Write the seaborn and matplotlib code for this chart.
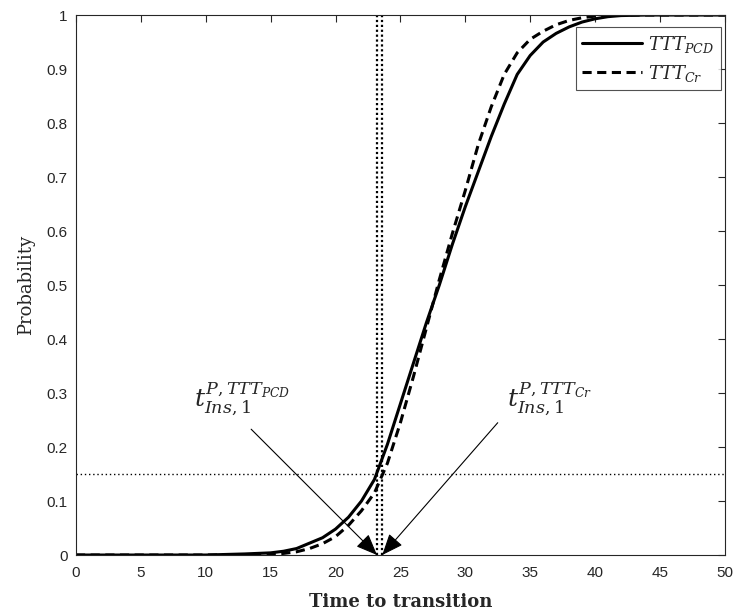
import matplotlib
matplotlib.use("Agg")
import matplotlib.pyplot as plt
import seaborn as sns
import pandas as pd

# Cumulative probability of time to transition
time_pcd = [0, 10, 13, 15, 16, 17, 18, 19, 20, 21, 22, 23, 24, 25, 26, 27, 28, 29,
            30, 31, 32, 33, 34, 35, 36, 37, 38, 39, 40, 41, 42, 44, 46, 50]
prob_pcd = [0.000, 0.000, 0.002, 0.004, 0.007, 0.012, 0.022, 0.032, 0.048, 0.070,
            0.100, 0.140, 0.205, 0.280, 0.355, 0.430, 0.500, 0.575, 0.645, 0.710,
            0.775, 0.835, 0.890, 0.925, 0.950, 0.966, 0.978, 0.987, 0.993, 0.997,
            0.999, 1.000, 1.000, 1.000]

time_cr = [0, 10, 15, 16, 17, 18, 19, 20, 21, 22, 23, 24, 25, 26, 27, 28, 29,
           30, 31, 32, 33, 34, 35, 36, 37, 38, 39, 40, 41, 45, 50]
prob_cr = [0.000, 0.000, 0.001, 0.003, 0.006, 0.012, 0.021, 0.034, 0.055, 0.082,
           0.115, 0.170, 0.245, 0.330, 0.420, 0.510, 0.595, 0.675, 0.760, 0.830,
           0.890, 0.930, 0.955, 0.970, 0.982, 0.990, 0.995, 0.998, 1.000, 1.000, 1.000]

threshold = 0.15
t_ins_pcd = 23.2
t_ins_cr = 23.6

x_ticks = [0, 5, 10, 15, 20, 25, 30, 35, 40, 45, 50]
y_ticks = [0, 0.1, 0.2, 0.3, 0.4, 0.5, 0.6, 0.7, 0.8, 0.9, 1]
y_tick_labels = ["0", "0.1", "0.2", "0.3", "0.4", "0.5", "0.6", "0.7", "0.8", "0.9", "1"]

sns.set_theme(style="white")
plt.rcParams["font.family"] = ["Liberation Sans", "DejaVu Sans"]
plt.rcParams["mathtext.fontset"] = "custom"
plt.rcParams["mathtext.it"] = "DejaVu Serif:italic"
plt.rcParams["mathtext.rm"] = "DejaVu Serif"
plt.rcParams["mathtext.bf"] = "DejaVu Serif:bold"

df_pcd = pd.DataFrame({"t": time_pcd, "p": prob_pcd})
df_cr = pd.DataFrame({"t": time_cr, "p": prob_cr})

fig = plt.figure(figsize=(7.34, 6.16), dpi=100)
ax = fig.add_axes([0.1035, 0.099, 0.884, 0.8766])

sns.lineplot(data=df_pcd, x="t", y="p", ax=ax, color="black", linewidth=2.2,
             label=r"$TTT_{PCD}$")
sns.lineplot(data=df_cr, x="t", y="p", ax=ax, color="black", linewidth=2.2,
             dashes=False, label=r"$TTT_{Cr}$")
ax.lines[1].set_dashes((3, 1.8))

# Threshold and crossing times
ax.axhline(threshold, color="black", linestyle=(0, (1, 2)), linewidth=1.0, zorder=1)
ax.axvline(t_ins_pcd, color="black", linestyle=(0, (1, 1.2)), linewidth=1.6, zorder=1)
ax.axvline(t_ins_cr, color="black", linestyle=(0, (1, 1.2)), linewidth=1.6, zorder=1)

arrow_kw = dict(arrowstyle="-|>,head_length=1.1,head_width=0.45", color="black",
                linewidth=0.8, shrinkA=0, shrinkB=0)
ax.annotate("", xy=(t_ins_pcd, 0.0), xytext=(13.5, 0.233), arrowprops=arrow_kw)
ax.annotate("", xy=(t_ins_cr, 0.0), xytext=(32.5, 0.245), arrowprops=arrow_kw)

ax.text(9.1, 0.29, r"$t^{P,TTT_{PCD}}_{Ins,1}$", fontsize=18, ha="left", va="center")
ax.text(33.2, 0.29, r"$t^{P,TTT_{Cr}}_{Ins,1}$", fontsize=18, ha="left", va="center")

ax.set_xlim(0, 50)
ax.set_ylim(0, 1)
ax.set_xticks(x_ticks)
ax.set_yticks(y_ticks)
ax.set_yticklabels(y_tick_labels)
ax.tick_params(direction="in", length=5, width=0.8, colors="#262626", labelsize=11,
               top=True, right=True, pad=6)
ax.tick_params(axis="x", pad=8)
for s in ax.spines.values():
    s.set_color("#262626")
    s.set_linewidth(0.8)

ax.set_xlabel("Time to transition", family="DejaVu Serif", fontweight="bold",
              fontsize=13, labelpad=9)
ax.set_ylabel("Probability", family="DejaVu Serif", fontsize=13, labelpad=8)

leg = ax.legend(loc="upper right", bbox_to_anchor=(0.999, 0.984), fontsize=13,
                frameon=True, fancybox=False, handlelength=3.3, borderpad=0.35,
                labelspacing=0.45, handletextpad=0.35, borderaxespad=0.2)
leg.get_frame().set_edgecolor("#262626")
leg.get_frame().set_linewidth(0.8)

fig.savefig("out.png", dpi=100)
